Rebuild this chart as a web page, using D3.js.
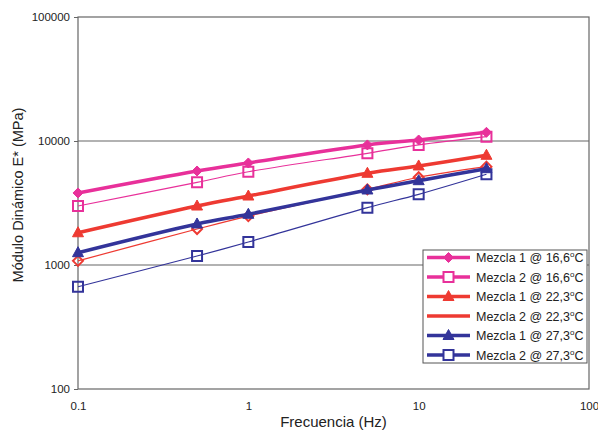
<!DOCTYPE html>
<html>
<head>
<meta charset="utf-8">
<script src="https://cdn.jsdelivr.net/npm/d3@7"></script>
<style>
  body { margin: 0; background: #fff; }
  text { font-family: "Liberation Sans", Arial, sans-serif; fill: #222; }
</style>
</head>
<body>
<div id="chart"></div>
<script>
const width = 598;
const height = 432;

// frequencies (Hz)
const freqs = [0.1, 0.5, 1, 5, 10, 25];

// E* (MPa)
const m1_166 = [3810, 5730, 6650, 9300, 10190, 11750];
const m2_166 = [2990, 4640, 5650, 7960, 9290, 10830];
const m1_223 = [1820, 2990, 3600, 5490, 6290, 7670];
const m2_223 = [1080, 1950, 2480, 4075, 5100, 6210];
const m1_273 = [1257, 2142, 2564, 4027, 4786, 5980];
const m2_273 = [668, 1182, 1532, 2900, 3716, 5390];

const xTicks = [0.1, 1, 10, 100];
const yTicks = [100, 1000, 10000, 100000];

const series = [
  { name: "Mezcla 1 @ 16,6", values: m1_166, color: "#e8309a", width: 3.5, marker: "diamond", fill: true, legendMarker: true },
  { name: "Mezcla 2 @ 16,6", values: m2_166, color: "#e8309a", width: 1.2, marker: "square", fill: false, legendMarker: true },
  { name: "Mezcla 1 @ 22,3", values: m1_223, color: "#ee3a32", width: 3.5, marker: "triangle", fill: true, legendMarker: true },
  { name: "Mezcla 2 @ 22,3", values: m2_223, color: "#ee3a32", width: 1.2, marker: "diamond", fill: false, legendMarker: false },
  { name: "Mezcla 1 @ 27,3", values: m1_273, color: "#33349a", width: 3.5, marker: "triangle", fill: true, legendMarker: true },
  { name: "Mezcla 2 @ 27,3", values: m2_273, color: "#33349a", width: 1.2, marker: "square", fill: false, legendMarker: true }
];

const margin = { top: 17, right: 9, bottom: 43, left: 78 };

const svg = d3.select("#chart").append("svg")
  .attr("width", width)
  .attr("height", height);

const x = d3.scaleLog()
  .domain([0.1, 100])
  .range([margin.left, width - margin.right]);

const y = d3.scaleLog()
  .domain([100, 100000])
  .range([height - margin.bottom, margin.top]);

// gridlines
svg.append("g")
  .selectAll("line")
  .data([1000, 10000])
  .join("line")
  .attr("x1", x(0.1))
  .attr("x2", x(100))
  .attr("y1", d => y(d))
  .attr("y2", d => y(d))
  .attr("stroke", "#666")
  .attr("stroke-width", 1.2);

// plot frame
svg.append("rect")
  .attr("x", x(0.1))
  .attr("y", y(100000))
  .attr("width", x(100) - x(0.1))
  .attr("height", y(100) - y(100000))
  .attr("fill", "none")
  .attr("stroke", "#666")
  .attr("stroke-width", 1.2);

// axes
const yAxis = svg.append("g")
  .attr("transform", `translate(${x(0.1)},0)`)
  .call(d3.axisLeft(y).tickValues(yTicks).tickFormat(d3.format("d")).tickSize(4).tickPadding(4));
yAxis.select(".domain").remove();
yAxis.selectAll("line").attr("stroke", "#666");
yAxis.selectAll("text").style("font-size", "11.5px").style("font-family", "Liberation Sans, Arial, sans-serif").attr("fill", "#222");

const xAxis = svg.append("g")
  .attr("transform", `translate(0,${y(100)})`)
  .call(d3.axisBottom(x).tickValues(xTicks).tickFormat(d => String(d)).tickSize(0).tickPadding(13));
xAxis.select(".domain").remove();
xAxis.selectAll("text").style("font-size", "11.5px").style("font-family", "Liberation Sans, Arial, sans-serif").attr("fill", "#222");

// axis titles
svg.append("text")
  .attr("x", (x(0.1) + x(100)) / 2)
  .attr("y", 427)
  .attr("text-anchor", "middle")
  .style("font-size", "15px")
  .text("Frecuencia (Hz)");

svg.append("text")
  .attr("transform", `translate(23,195) rotate(-90)`)
  .attr("text-anchor", "middle")
  .style("font-size", "14.5px")
  .text("Módulo Dinámico E* (MPa)");

const line = d3.line()
  .x(d => x(d[0]))
  .y(d => y(d[1]))
  .curve(d3.curveCatmullRom.alpha(0.5));

function markerPath(type, size) {
  const s = size / 2;
  if (type === "diamond") return `M0,${-s}L${s},0L0,${s}L${-s},0Z`;
  if (type === "square") return `M${-s},${-s}H${s}V${s}H${-s}Z`;
  if (type === "triangle") return `M0,${-s - 1}L${s + 0.5},${s - 1}L${-s - 0.5},${s - 1}Z`;
  return "";
}

// draw thin series first, then thick
const order = [1, 3, 5, 0, 2, 4];
order.forEach(i => {
  const s = series[i];
  const pts = freqs.map((f, j) => [f, s.values[j]]);
  const g = svg.append("g");
  g.append("path")
    .datum(pts)
    .attr("d", line)
    .attr("fill", "none")
    .attr("stroke", s.color)
    .attr("stroke-width", s.width);
  g.selectAll("path.mk")
    .data(pts)
    .join("path")
    .attr("class", "mk")
    .attr("transform", d => `translate(${x(d[0])},${y(d[1])})`)
    .attr("d", markerPath(s.marker, 10))
    .attr("fill", s.fill ? s.color : "none")
    .attr("stroke", s.color)
    .attr("stroke-width", s.fill ? 1 : 2);
});

// legend
const lg = svg.append("g").attr("transform", "translate(423,250)");
lg.append("rect")
  .attr("width", 164)
  .attr("height", 113)
  .attr("fill", "#fff")
  .attr("stroke", "#555")
  .attr("stroke-width", 1);

series.forEach((s, i) => {
  const yy = 7.5 + i * 19.5;
  const row = lg.append("g").attr("transform", `translate(0,${yy})`);
  row.append("line")
    .attr("x1", 4).attr("x2", 47)
    .attr("y1", 0).attr("y2", 0)
    .attr("stroke", s.color)
    .attr("stroke-width", 3.5);
  if (s.legendMarker) {
    row.append("path")
      .attr("transform", "translate(25.5,0)")
      .attr("d", markerPath(s.marker, 10))
      .attr("fill", s.fill ? s.color : "#fff")
      .attr("stroke", s.color)
      .attr("stroke-width", s.fill ? 1 : 2);
  }
  const t = row.append("text")
    .attr("x", 53)
    .attr("y", 4.5)
    .style("font-size", "12.5px");
  t.append("tspan").text(s.name);
  t.append("tspan").attr("dy", -5).style("font-size", "8px").text("o");
  t.append("tspan").attr("dy", 5).text("C");
});
</script>
</body>
</html>
